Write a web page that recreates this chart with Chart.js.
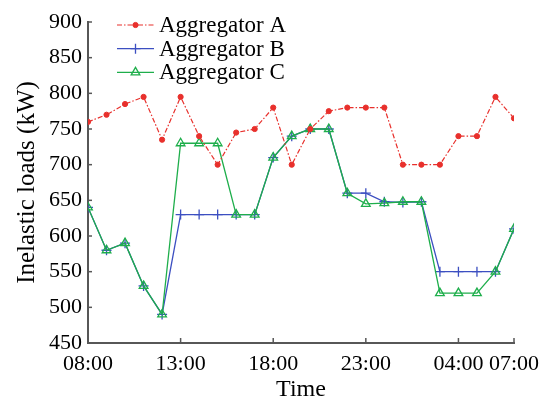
<html>
<head>
  <title>Inelastic loads</title>
  <script src="https://cdn.jsdelivr.net/npm/chart.js@4.4.1/dist/chart.umd.min.js"></script>
  <style>
    body { margin: 0; background: white; }
    #wrap { width: 554px; height: 402px; }
  </style>
</head>
<body>
  <div id="wrap"><canvas id="loadChart" width="554" height="402"></canvas></div>

  <script>
    // hourly slots, 08:00 through 07:00 the next morning
    const times = ['08:00', '09:00', '10:00', '11:00', '12:00', '13:00', '14:00', '15:00',
      '16:00', '17:00', '18:00', '19:00', '20:00', '21:00', '22:00', '23:00',
      '00:00', '01:00', '02:00', '03:00', '04:00', '05:00', '06:00', '07:00'];
    const tickTimes = ['08:00', '13:00', '18:00', '23:00', '04:00', '07:00'];
    const yTicks = [450, 500, 550, 600, 650, 700, 750, 800, 850, 900];

    const aggregatorA = [760, 770, 785, 795, 735, 795, 740, 700, 745, 750, 780, 700,
      750, 775, 780, 780, 780, 700, 700, 700, 740, 740, 795, 765];
    const aggregatorB = [640, 580, 590, 530, 490, 630, 630, 630, 630, 630, 710, 740,
      750, 750, 660, 660, 648, 647, 648, 550, 550, 550, 550, 610];
    const aggregatorC = [640, 580, 590, 530, 490, 730, 730, 730, 630, 630, 710, 740,
      750, 750, 660, 645, 646, 648, 648, 520, 520, 520, 550, 610];

    const serif = '"Liberation Serif", "Times New Roman", serif';
    const axisColor = '#575757';

    function points(values) {
      return values.map((v, i) => ({ x: i, y: v }));
    }

    // ticks drawn inward, like the original plot
    const innerTicks = {
      id: 'innerTicks',
      afterDraw(chart) {
        const ctx = chart.ctx;
        const area = chart.chartArea;
        ctx.save();
        ctx.strokeStyle = axisColor;
        ctx.lineWidth = 1.5;
        chart.scales.x.ticks.forEach(t => {
          const px = chart.scales.x.getPixelForValue(t.value);
          ctx.beginPath();
          ctx.moveTo(px, area.bottom);
          ctx.lineTo(px, area.bottom - 5);
          ctx.stroke();
        });
        chart.scales.y.ticks.forEach(t => {
          const py = chart.scales.y.getPixelForValue(t.value);
          ctx.beginPath();
          ctx.moveTo(area.left, py);
          ctx.lineTo(area.left + 4, py);
          ctx.stroke();
        });
        ctx.restore();
      }
    };

    // legend with line sample and marker in the middle
    const lineLegend = {
      id: 'lineLegend',
      afterDraw(chart) {
        const ctx = chart.ctx;
        const x0 = chart.chartArea.left + 29;
        const len = 37;
        ctx.save();
        chart.data.datasets.forEach((ds, i) => {
          const y = chart.chartArea.top + 3 + i * 23.7;
          ctx.strokeStyle = ds.borderColor;
          ctx.lineWidth = ds.borderWidth;
          ctx.setLineDash(ds.borderDash || []);
          ctx.beginPath();
          ctx.moveTo(x0, y);
          ctx.lineTo(x0 + len, y);
          ctx.stroke();
          ctx.setLineDash([]);
          ctx.fillStyle = ds.pointBackgroundColor;
          ctx.strokeStyle = ds.pointBorderColor;
          ctx.lineWidth = ds.pointBorderWidth;
          Chart.helpers.drawPoint(ctx, {
            pointStyle: ds.pointStyle,
            radius: ds.pointRadius,
            borderWidth: ds.pointBorderWidth
          }, x0 + len / 2, y);
          ctx.fillStyle = '#000';
          ctx.font = '23px ' + serif;
          ctx.textBaseline = 'middle';
          ctx.fillText(ds.label, x0 + len + 5, y + 1);
        });
        ctx.restore();
      }
    };

    const config = {
      type: 'line',
      data: {
        datasets: [
          {
            label: 'Aggregator A',
            data: points(aggregatorA),
            order: 0,
            borderColor: '#e8302c',
            backgroundColor: '#e8302c',
            borderWidth: 1.2,
            borderDash: [5, 2, 1.5, 2],
            pointStyle: 'circle',
            pointRadius: 2.6,
            pointBorderWidth: 1,
            pointBackgroundColor: '#e8302c',
            pointBorderColor: '#e8302c'
          },
          {
            label: 'Aggregator B',
            data: points(aggregatorB),
            order: 2,
            borderColor: '#3c4fc1',
            backgroundColor: '#3c4fc1',
            borderWidth: 1.3,
            pointStyle: 'cross',
            pointRadius: 5,
            pointBorderWidth: 1.3,
            pointBackgroundColor: '#3c4fc1',
            pointBorderColor: '#3c4fc1'
          },
          {
            label: 'Aggregator C',
            data: points(aggregatorC),
            order: 1,
            borderColor: '#1eae4b',
            backgroundColor: 'rgba(0,0,0,0)',
            borderWidth: 1.3,
            pointStyle: 'triangle',
            pointRadius: 5,
            pointBorderWidth: 1.3,
            pointBackgroundColor: 'rgba(0,0,0,0)',
            pointBorderColor: '#1eae4b'
          }
        ]
      },
      options: {
        responsive: false,
        animation: false,
        layout: { padding: { top: 22, right: 40, left: 0, bottom: 0 } },
        plugins: {
          legend: { display: false },
          tooltip: { enabled: false }
        },
        elements: { line: { tension: 0 } },
        scales: {
          x: {
            type: 'linear',
            min: 0,
            max: times.length - 1,
            afterBuildTicks: scale => {
              scale.ticks = tickTimes.map(t => ({ value: times.indexOf(t) }));
            },
            afterFit: scale => { scale.height = 59; },
            grid: { display: false, drawTicks: false },
            border: { color: axisColor, width: 2 },
            ticks: {
              color: '#000',
              font: { family: serif, size: 22 },
              padding: 8,
              maxRotation: 0,
              autoSkip: false,
              callback: v => times[v]
            },
            title: {
              display: true,
              text: 'Time',
              color: '#000',
              font: { family: serif, size: 24 },
              padding: { top: 0, bottom: -2 }
            }
          },
          y: {
            min: 450,
            max: 900,
            afterBuildTicks: scale => {
              scale.ticks = yTicks.map(v => ({ value: v }));
            },
            afterFit: scale => { scale.width = 88; },
            grid: { display: false, drawTicks: false },
            border: { color: axisColor, width: 2 },
            ticks: {
              color: '#000',
              font: { family: serif, size: 22 },
              padding: 6
            },
            title: {
              display: true,
              text: 'Inelastic loads (kW)',
              color: '#000',
              font: { family: serif, size: 25 },
              padding: { top: 12, bottom: 0 }
            }
          }
        }
      },
      plugins: [innerTicks, lineLegend]
    };

    this.loadChart = new Chart(document.getElementById('loadChart'), config);
  </script>
</body>
</html>
